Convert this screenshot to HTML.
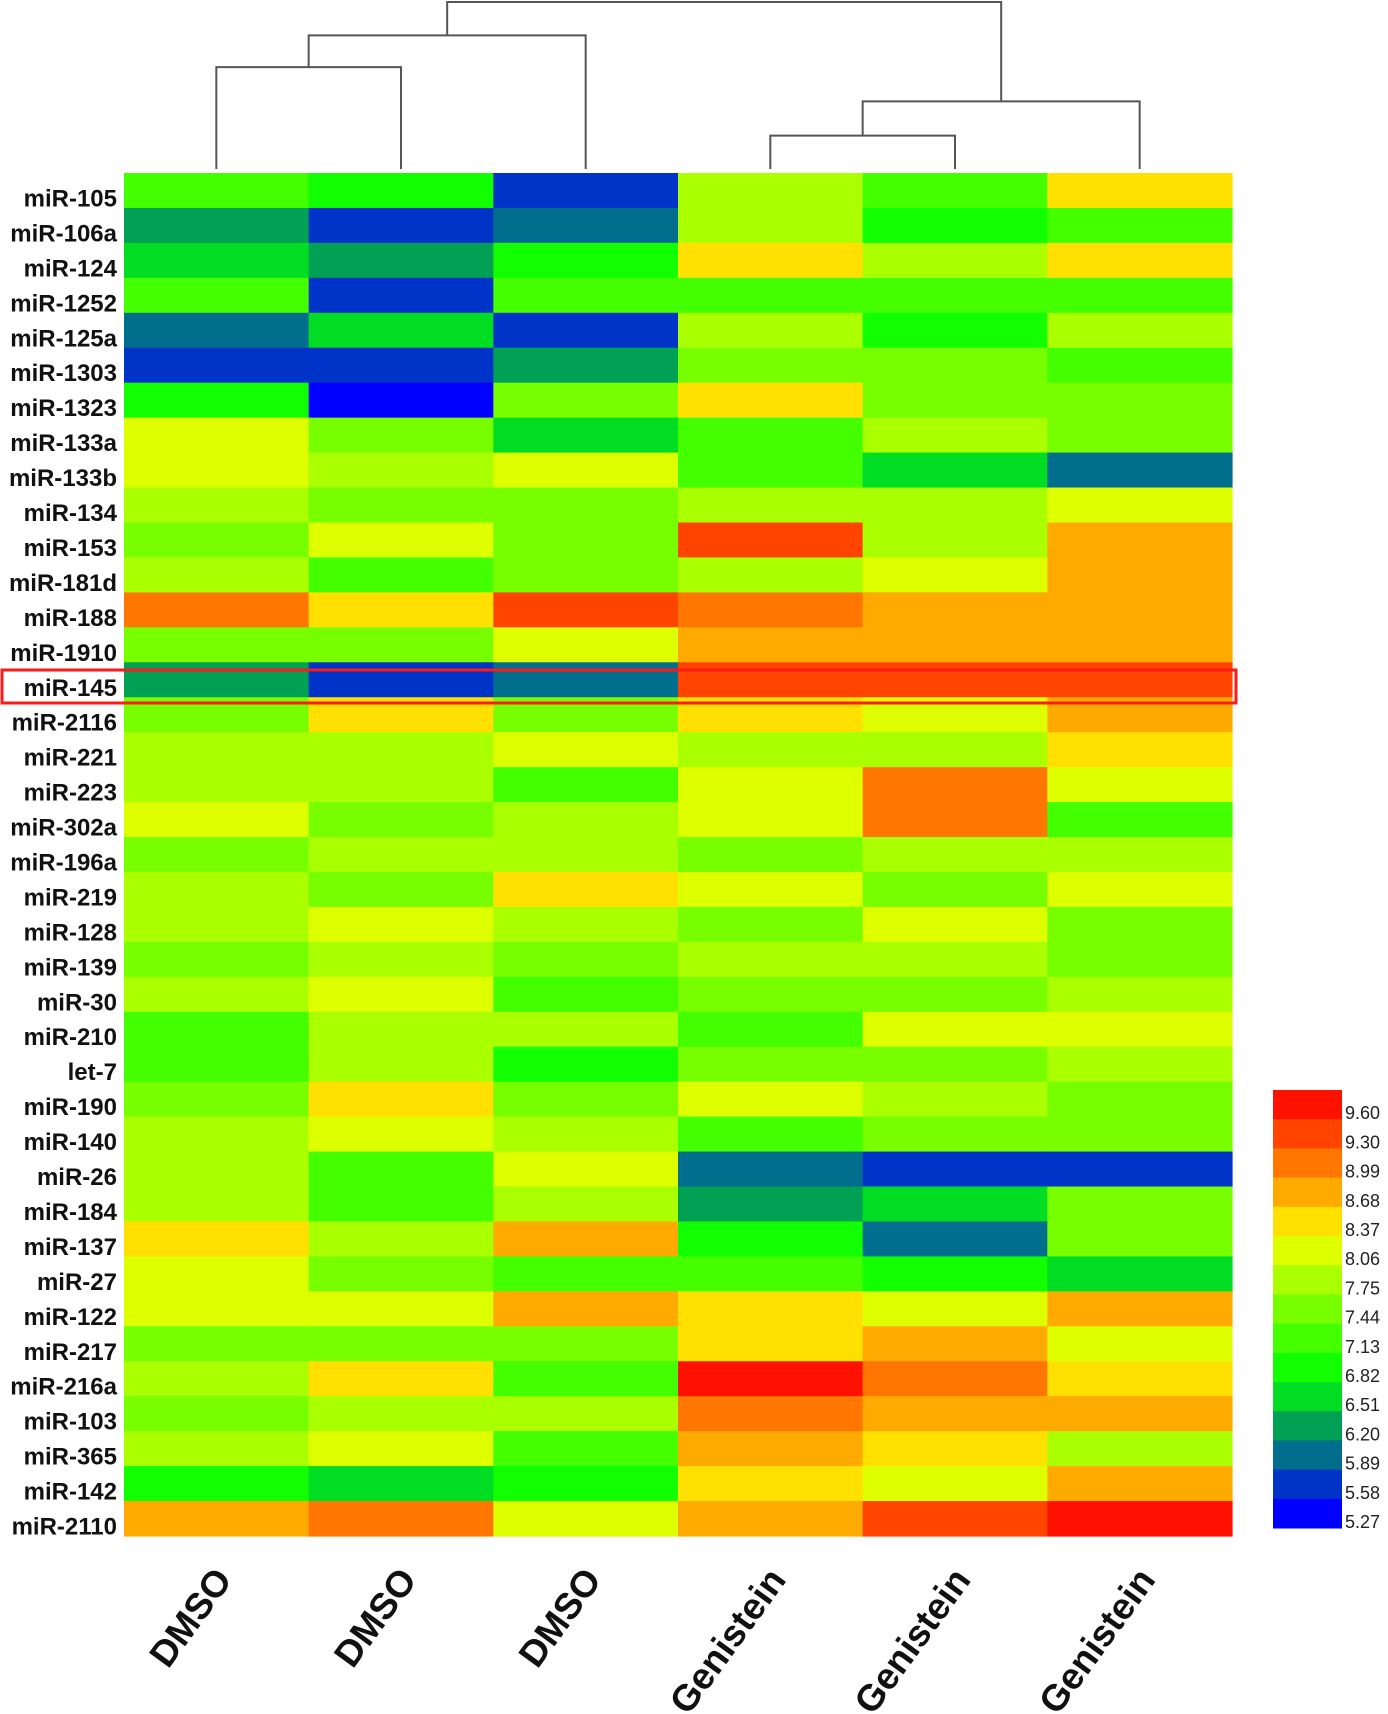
<!DOCTYPE html>
<html><head><meta charset="utf-8"><style>
html,body{margin:0;padding:0;background:#fff;}
svg{display:block;font-family:"Liberation Sans",Arial,sans-serif;}
</style></head><body>
<svg id="chart" width="1388" height="1714" viewBox="0 0 1388 1714" xmlns="http://www.w3.org/2000/svg">
<g id="dendro" stroke="#555" stroke-width="2" fill="none"></g>
<g id="cells"></g>
<g id="rowlabels"></g>
<g id="collabels"></g>
<g id="legend"></g>
<rect x="2" y="670" width="1234" height="33" fill="none" stroke="#ff1a1a" stroke-width="3"/>
</svg>
<script>
const rowNames=["miR-105","miR-106a","miR-124","miR-1252","miR-125a","miR-1303","miR-1323","miR-133a","miR-133b","miR-134","miR-153","miR-181d","miR-188","miR-1910","miR-145","miR-2116","miR-221","miR-223","miR-302a","miR-196a","miR-219","miR-128","miR-139","miR-30","miR-210","let-7","miR-190","miR-140","miR-26","miR-184","miR-137","miR-27","miR-122","miR-217","miR-216a","miR-103","miR-365","miR-142","miR-2110"];
const colNames=["DMSO","DMSO","DMSO","Genistein","Genistein","Genistein"];
const legendTicks=[5.27,5.58,5.89,6.20,6.51,6.82,7.13,7.44,7.75,8.06,8.37,8.68,8.99,9.30,9.60];
const legendColors=["#0000ff","#0033c8","#006e8c","#00a055","#00dd22","#11ff00","#44ff00","#77ff00","#aaff00","#ddff00","#ffe000","#ffaa00","#ff7700","#ff4400","#ff1100"];
const values=[
[7.13,6.82,5.58,7.75,7.13,8.37],
[6.20,5.58,5.89,7.75,6.82,7.13],
[6.51,6.20,6.82,8.37,7.75,8.37],
[7.13,5.58,7.13,7.13,7.13,7.13],
[5.89,6.51,5.58,7.75,6.82,7.75],
[5.58,5.58,6.20,7.44,7.44,7.13],
[6.82,5.27,7.44,8.37,7.44,7.44],
[8.06,7.44,6.51,7.13,7.75,7.44],
[8.06,7.75,8.06,7.13,6.51,5.89],
[7.75,7.44,7.44,7.75,7.75,8.06],
[7.44,8.06,7.44,9.30,7.75,8.68],
[7.75,7.13,7.44,7.75,8.06,8.68],
[8.99,8.37,9.30,8.99,8.68,8.68],
[7.44,7.44,8.06,8.68,8.68,8.68],
[6.20,5.58,5.89,9.30,9.30,9.30],
[7.44,8.37,7.44,8.37,8.06,8.68],
[7.75,7.75,8.06,7.75,7.75,8.37],
[7.75,7.75,7.13,8.06,8.99,8.06],
[8.06,7.44,7.75,8.06,8.99,7.13],
[7.44,7.75,7.75,7.44,7.75,7.75],
[7.75,7.44,8.37,8.06,7.44,8.06],
[7.75,8.06,7.75,7.44,8.06,7.44],
[7.44,7.75,7.44,7.75,7.75,7.44],
[7.75,8.06,7.13,7.44,7.44,7.75],
[7.13,7.75,7.75,7.13,8.06,8.06],
[7.13,7.75,6.82,7.44,7.44,7.75],
[7.44,8.37,7.44,8.06,7.75,7.44],
[7.75,8.06,7.75,7.13,7.44,7.44],
[7.75,7.13,8.06,5.89,5.58,5.58],
[7.75,7.13,7.75,6.20,6.51,7.44],
[8.37,7.75,8.68,6.82,5.89,7.44],
[8.06,7.44,7.13,7.13,6.82,6.51],
[8.06,8.06,8.68,8.37,8.06,8.68],
[7.44,7.44,7.44,8.37,8.68,8.06],
[7.75,8.37,7.13,9.60,8.99,8.37],
[7.44,7.75,7.75,8.99,8.68,8.68],
[7.75,8.06,7.13,8.68,8.37,7.75],
[6.82,6.51,6.82,8.37,8.06,8.68],
[8.68,8.99,8.06,8.68,9.30,9.60]];
// dendrogram merges: [leftIndexOrNode, rightIndexOrNode, height]; nodes numbered 6+
const merges=[[0,1,0.61],[3,4,0.20],[6,2,0.80],[7,5,0.405],[8,9,1.0]];

const NS="http://www.w3.org/2000/svg";
const X0=124,X1=1232,Y0=173,Y1=1536;
const cw=(X1-X0)/colNames.length, rh=(Y1-Y0)/rowNames.length;
const xCol=i=>X0+i*cw, yRow=j=>Y0+j*rh;
function colorFor(v){let best=0,bd=1e9;legendTicks.forEach((t,i)=>{const d=Math.abs(t-v);if(d<bd){bd=d;best=i;}});return legendColors[best];}
function mk(tag,attrs,parent){const e=document.createElementNS(NS,tag);for(const k in attrs)e.setAttribute(k,attrs[k]);parent.appendChild(e);return e;}
const cells=document.getElementById('cells');
values.forEach((row,j)=>row.forEach((v,i)=>{
  const r=mk('rect',{x:xCol(i),y:yRow(j),width:cw+0.6,height:rh+0.6,fill:colorFor(v)},cells);
  
  
}));
const rl=document.getElementById('rowlabels');
rowNames.forEach((n,j)=>{
  const t=mk('text',{x:117,y:yRow(j)+rh/2+16,'text-anchor':'end','font-size':24,'font-weight':'bold',fill:'#111'},rl);
  t.textContent=n;
  
  
});
const cl=document.getElementById('collabels');
colNames.forEach((n,i)=>{
  const x=xCol(i)+cw/2+17,y=1580;
  const t=mk('text',{x:x,y:y,'text-anchor':'end','font-size':37,'font-weight':'bold',fill:'#111',transform:`rotate(-54 ${x} ${y})`},cl);
  t.textContent=n;
  
  
});
// legend
const lg=document.getElementById('legend');
const LX=1273,LW=69,LT=1090,LB=1528,bh=(LB-LT)/legendTicks.length;
for(let k=legendTicks.length-1;k>=0;k--){
  const idx=legendTicks.length-1-k;
  const r=mk('rect',{x:LX,y:LT+idx*bh,width:LW,height:bh+0.5,fill:legendColors[k]},lg);
  
  
  const t=mk('text',{x:LX+LW+3,y:LT+idx*bh+bh,'font-size':18,fill:'#222'},lg);
  t.textContent=legendTicks[k].toFixed(2);
  
  
}
// dendrogram
const dg=document.getElementById('dendro');
const Ybase=169,Ytop=2;
const yH=h=>Ybase-(Ybase-Ytop)*h;
const nodes=colNames.map((_,i)=>({x:xCol(i)+cw/2,y:Ybase}));
merges.forEach((m,k)=>{
  const a=nodes[m[0]],b=nodes[m[1]],y=yH(m[2]);
  const p=mk('path',{d:`M${a.x},${a.y}V${y}H${b.x}V${b.y}`},dg);
  
  
  nodes.push({x:(a.x+b.x)/2,y:y});
});
</script>
</body></html>
